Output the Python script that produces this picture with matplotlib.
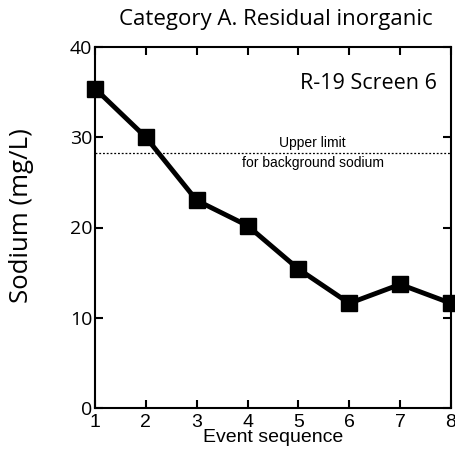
import matplotlib
matplotlib.use("Agg")
import matplotlib.pyplot as plt

events = [1, 2, 3, 4, 5, 6, 7, 8]
sodium = [35.4, 30.0, 23.0, 20.2, 15.4, 11.6, 13.7, 11.6]
upper_limit = 28.2
x_ticks = [1, 2, 3, 4, 5, 6, 7, 8]
y_ticks = [0, 10, 20, 30, 40]

fig = plt.figure(figsize=(4.55, 4.54), dpi=100)
ax = fig.add_axes([95/455, 1-408/454, (451-95)/455, (408-47)/454])

ax.plot(events, sodium, color="black", lw=3.5, marker="s", ms=11, clip_on=False, zorder=5)
ax.axhline(upper_limit, color="black", lw=0.9, ls=(0, (1.5, 1.5)))
ax.text(5.28, upper_limit + 0.35, "Upper limit", ha="center", va="bottom",
        fontsize=10, family="Liberation Sans")
ax.text(5.28, upper_limit - 0.3, "for background sodium", ha="center", va="top",
        fontsize=10, family="Liberation Sans")
ax.text(0.96, 0.90, "R-19 Screen 6", transform=ax.transAxes, ha="right", va="center",
        fontsize=15.5, family="Open Sans")

ax.set_xlim(1, 8)
ax.set_ylim(0, 40)
ax.set_xticks(x_ticks)
ax.set_yticks(y_ticks)
ax.tick_params(direction="in", length=6, width=1.5, top=True, right=True)
ax.tick_params(axis="x", pad=4)
ax.tick_params(axis="y", pad=2)
for lab in ax.get_xticklabels():
    lab.set_family("Liberation Sans"); lab.set_fontsize(14)
for lab in ax.get_yticklabels():
    lab.set_family("Open Sans"); lab.set_fontsize(14)
for s in ax.spines.values():
    s.set_linewidth(1.5)

fig.text(273/455, 1-438/454, "Event sequence", ha="center", va="center",
         family="Liberation Sans", fontsize=14)
fig.text(22/455, 1-216/454, "Sodium (mg/L)", ha="center", va="center", rotation=90,
         family="Open Sans", fontsize=18.5)
fig.text(276/455, 1-19/454, "Category A. Residual inorganic", ha="center", va="center",
         family="Open Sans", fontsize=16)

fig.savefig("out.png", dpi=100)
